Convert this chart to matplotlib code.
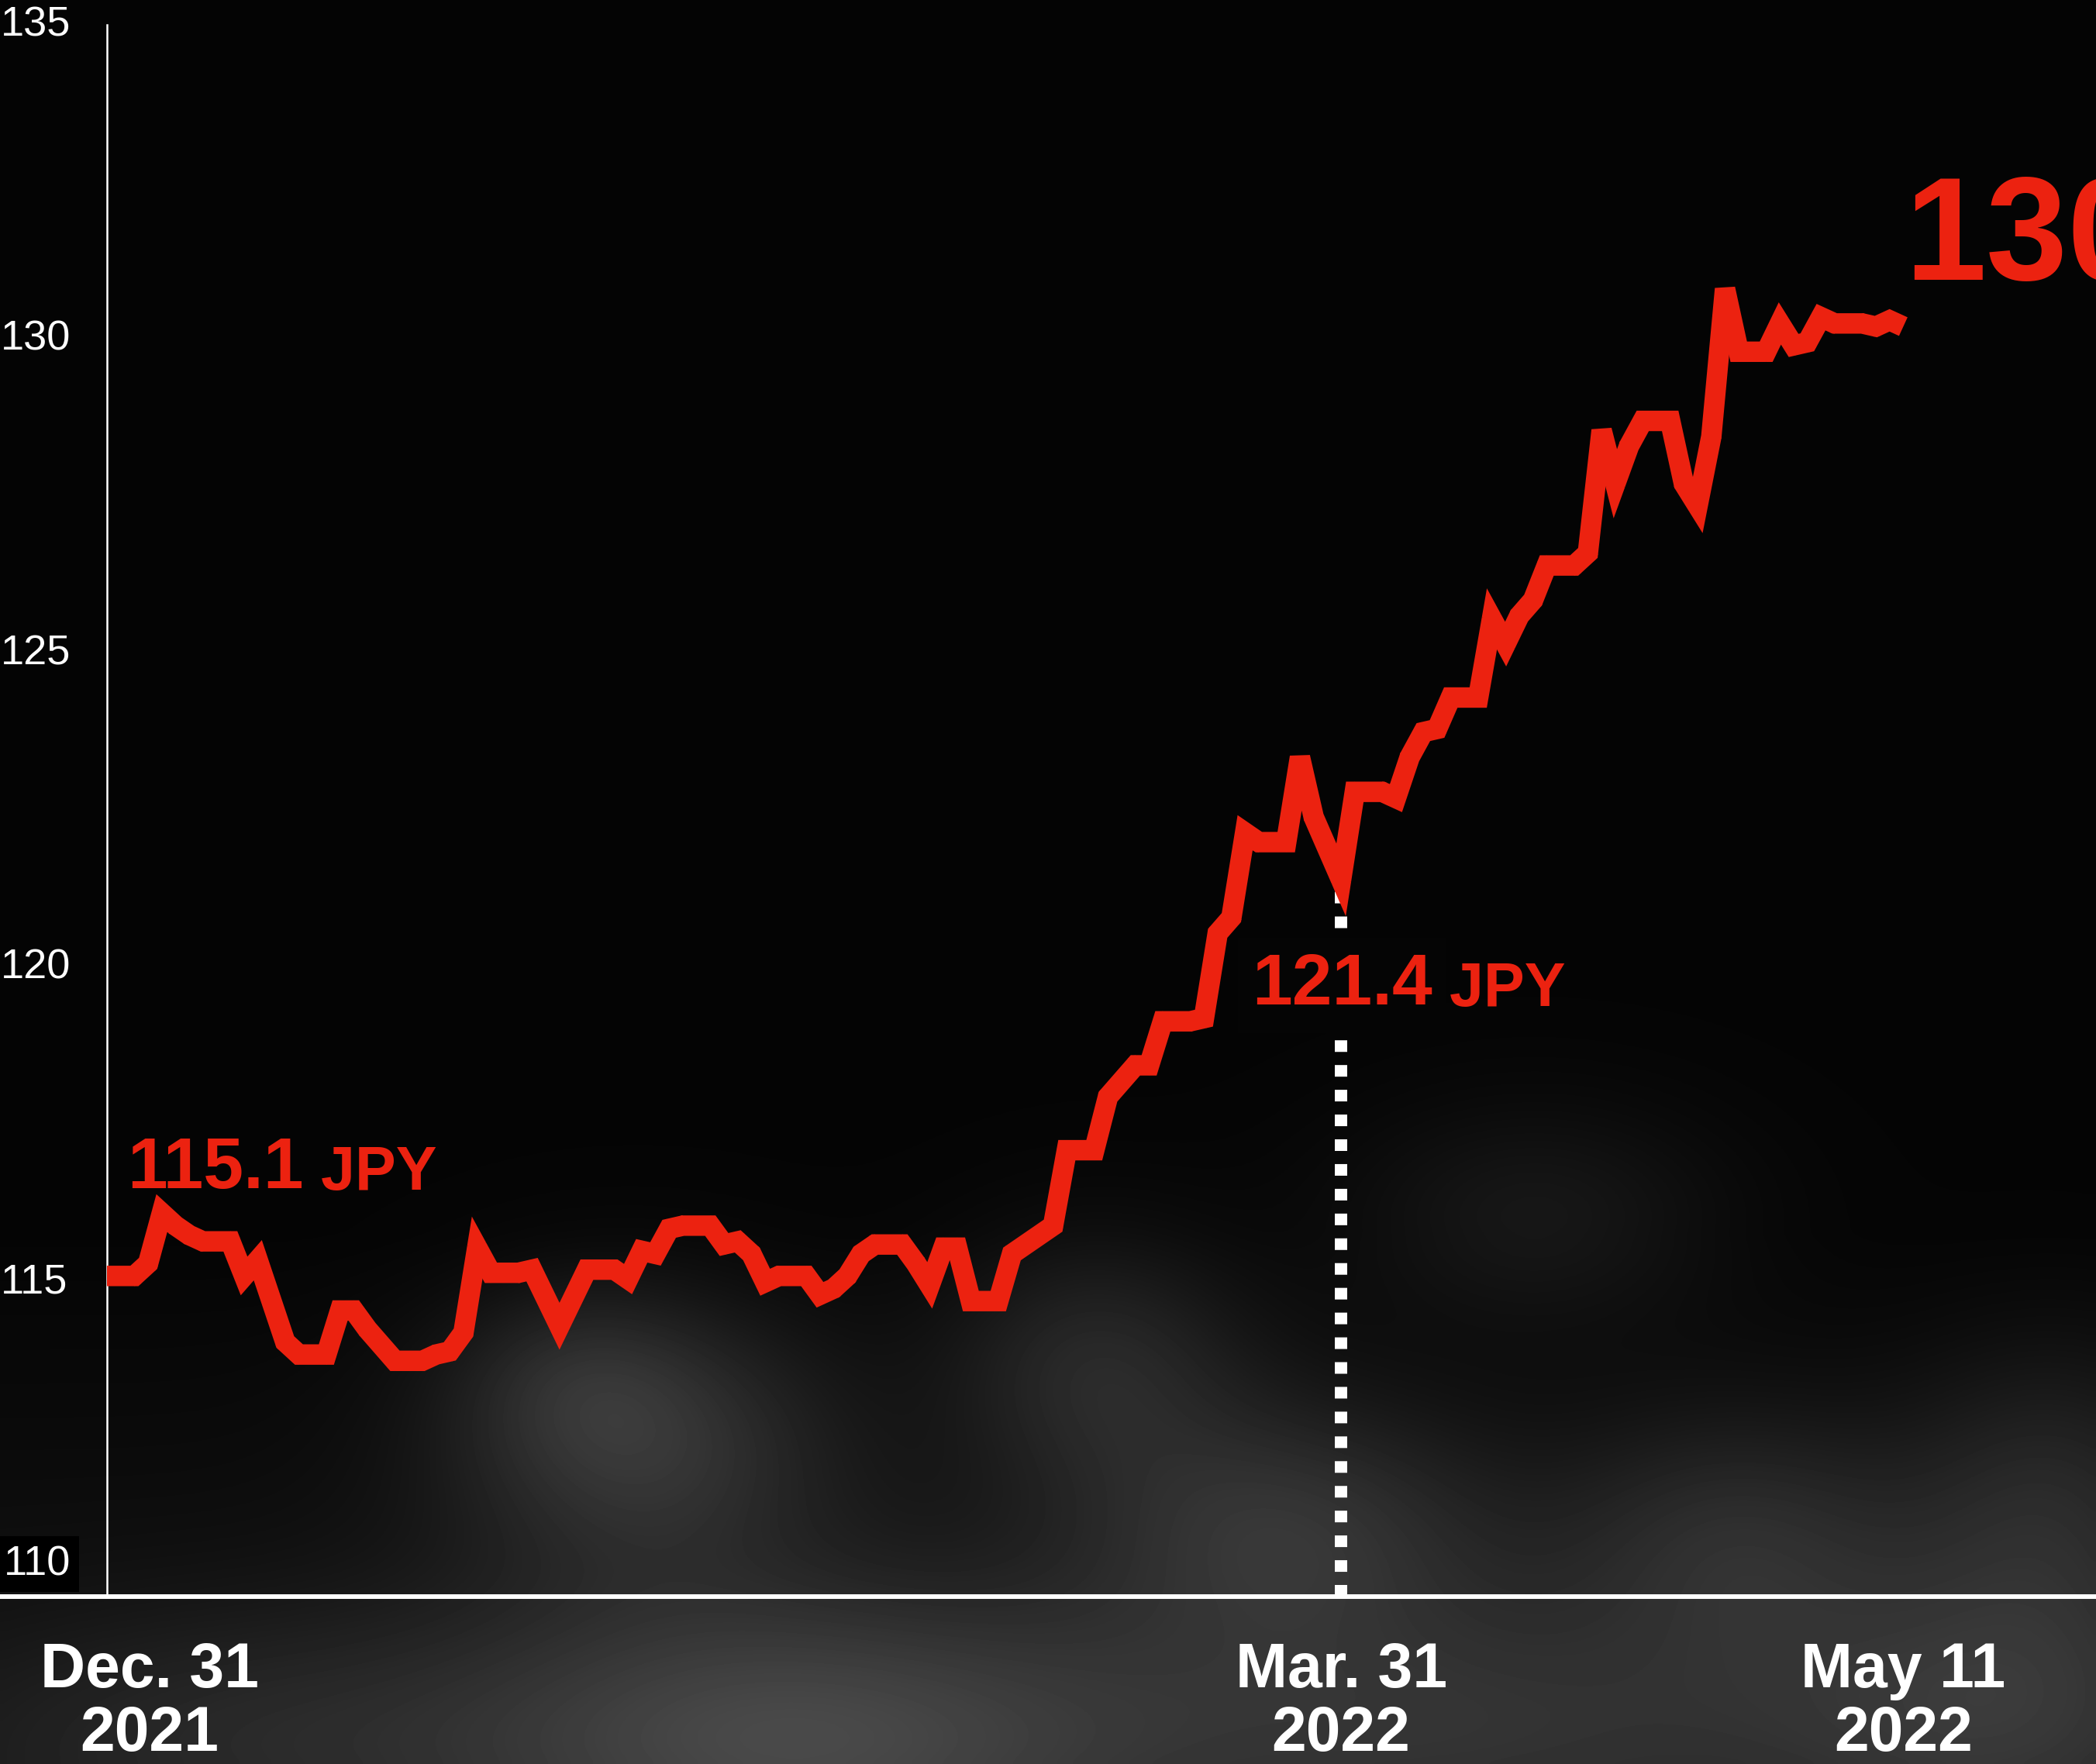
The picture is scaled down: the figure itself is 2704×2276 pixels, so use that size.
#!/usr/bin/env python3

import matplotlib

matplotlib.use("Agg")

import matplotlib.dates as mdates
import matplotlib.pyplot as plt
import numpy as np
import pandas as pd

plt.rcParams["font.family"] = "Liberation Sans"
plt.rcParams["lines.scale_dashes"] = False

RED = "#ec2210"
BG = (0.018, 0.018, 0.018)
FIG_W, FIG_H, DPI = 2704, 2276, 100

# Daily USD/JPY close; Saturday and Sunday repeat Friday's close.
dates = pd.date_range("2021-12-31", "2022-05-11", freq="D")
usd_jpy = [
    115.1, 115.1, 115.1, 115.3, 116.1, 115.9, 115.75, 115.65, 115.65, 115.65,
    115.1, 115.35, 114.7, 114.05, 113.85, 113.85, 113.85, 114.55, 114.55, 114.25,
    114.0, 113.75, 113.75, 113.75, 113.85, 113.9, 114.2, 115.55, 115.15, 115.15,
    115.15, 115.2, 114.75, 114.3, 114.75, 115.2, 115.2, 115.2, 115.05, 115.5,
    115.45, 115.85, 115.9, 115.9, 115.9, 115.6, 115.65, 115.45, 115.0, 115.1,
    115.1, 115.1, 114.8, 114.9, 115.1, 115.45, 115.6, 115.6, 115.6, 115.3,
    114.95, 115.55, 115.55, 114.7, 114.7, 114.7, 115.45, 115.6, 115.75, 115.9,
    117.1, 117.1, 117.1, 117.95, 118.2, 118.45, 118.45, 119.15, 119.15, 119.15,
    119.2, 120.55, 120.8, 122.15, 122.0, 122.0, 122.0, 123.35, 122.4, 121.9,
    121.4, 122.8, 122.8, 122.8, 122.7, 123.35, 123.75, 123.8, 124.3, 124.3,
    124.3, 125.55, 125.15, 125.6, 125.85, 126.4, 126.4, 126.4, 126.6, 128.55,
    127.7, 128.3, 128.7, 128.7, 128.7, 127.7, 127.35, 128.45, 130.8, 129.8,
    129.8, 129.8, 130.25, 129.9, 129.95, 130.35, 130.25, 130.25, 130.25, 130.2,
    130.3, 130.2,
]

y_ticks = [115, 120, 125, 130, 135]
y_floor = 110
x_tick_dates = ["2021-12-31", "2022-03-31", "2022-05-11"]
x_tick_labels = [("Dec. 31", "2021"), ("Mar. 31", "2022"), ("May 11", "2022")]
marked_date = "2022-03-31"

# soft grey puffs behind the chart: (x, y from top, width, height, strength)
SMOKE_PUFFS = [
    (0.306, 0.818, 0.065, 0.055, 0.16),
    (0.274, 0.780, 0.040, 0.035, 0.06),
    (0.523, 0.773, 0.050, 0.050, 0.12),
    (0.612, 0.864, 0.070, 0.050, 0.14),
    (0.733, 0.690, 0.065, 0.045, 0.07),
    (0.830, 0.870, 0.060, 0.050, 0.11),
    (0.980, 0.850, 0.050, 0.060, 0.10),
    (0.370, 0.985, 0.120, 0.060, 0.20),
    (0.700, 0.977, 0.150, 0.060, 0.12),
    (0.960, 0.970, 0.080, 0.060, 0.12),
    (0.100, 0.985, 0.100, 0.050, 0.07),
]


def smoke_background(fig):
    h, w = 264, 314
    v, u = np.mgrid[0:1:h * 1j, 0:1:w * 1j]
    field = BG[0] + 0.06 * np.clip((v - 0.70) / 0.30, 0, 1)
    for cx, cy, sx, sy, amp in SMOKE_PUFFS:
        field += amp * np.exp(-0.5 * (((u - cx) / sx) ** 2 + ((v - cy) / sy) ** 2))
    bg = fig.add_axes([0, 0, 1, 1])
    bg.imshow(field, cmap="gray", vmin=0, vmax=1, extent=(0, 1, 0, 1),
              aspect="auto", interpolation="bicubic")
    bg.set_axis_off()


def miter_tips(ax, x, y, lw_pt, color, limit=4.0):
    """Pointed corners where the miter stays under the limit (bevel elsewhere)."""
    half = lw_pt * DPI / 72 / 2
    pts = ax.transData.transform(np.column_stack([x, y]))
    inv = ax.transData.inverted()
    for i in range(1, len(pts) - 1):
        p0, p1, p2 = pts[i - 1], pts[i], pts[i + 1]
        d1 = (p1 - p0) / np.linalg.norm(p1 - p0)
        d2 = (p2 - p1) / np.linalg.norm(p2 - p1)
        cross = d1[0] * d2[1] - d1[1] * d2[0]
        if abs(cross) < 1e-6:
            continue
        phi = np.arccos(np.clip(np.dot(-d1, d2), -1, 1))
        if 1 / np.sin(phi / 2) > limit:
            continue
        side = -1 if cross > 0 else 1
        n1 = np.array([-d1[1], d1[0]]) * side * half
        n2 = np.array([-d2[1], d2[0]]) * side * half
        a, b = p1 + n1, p1 + n2
        t, _ = np.linalg.solve(np.column_stack([d1, d2]), b - a)
        m = a + t * d1
        poly = inv.transform(np.array([a, m, b, p1]))
        ax.fill(poly[:, 0], poly[:, 1], color=color, lw=0, zorder=3)


def main():
    fig = plt.figure(figsize=(FIG_W / DPI, FIG_H / DPI), dpi=DPI, facecolor="black")
    smoke_background(fig)

    # plot area spans the full width; the baseline sits 216 px above the bottom
    axis_px = 216
    ax = fig.add_axes([0, axis_px / FIG_H, 1, 1 - axis_px / FIG_H])
    ax.patch.set_alpha(0)

    x = mdates.date2num(dates.to_pydatetime())
    x0 = x[0]
    px_per_day = 17.69
    px_per_unit = 81.12
    ax.set_xlim(x0 - 138 / px_per_day, x0 + (FIG_W - 138) / px_per_day)
    ax.set_ylim(y_floor, y_floor + (FIG_H - axis_px) / px_per_unit)

    for side in ("left", "right", "top"):
        ax.spines[side].set_visible(False)
    ax.spines["bottom"].set_color("white")
    ax.spines["bottom"].set_linewidth(4.3)
    ax.set_xticks([])
    ax.set_yticks([])

    # value axis line
    ax.plot([x0, x0], [y_floor, y_ticks[-1]], color="white", lw=1.8, zorder=2)

    # dotted drop line under the marked day
    xm = mdates.date2num(pd.Timestamp(marked_date))
    vm = usd_jpy[dates.get_loc(pd.Timestamp(marked_date))]
    ax.plot([xm, xm], [y_floor, vm], color="white", lw=11.5,
            dashes=(10.8, 12.2), dash_capstyle="butt", zorder=2)

    line_w = 19
    ax.plot(x, usd_jpy, color=RED, lw=line_w, solid_joinstyle="bevel",
            solid_capstyle="butt", zorder=3)
    miter_tips(ax, x, usd_jpy, line_w, RED)

    # value labels
    for val in y_ticks:
        ax.annotate(f"{val}", xy=(0, val), xycoords=("axes fraction", "data"),
                    xytext=(0.7, 0), textcoords="offset points",
                    ha="left", va="center", fontsize=39, color="white")
    ax.annotate(f"{y_floor}", xy=(0, y_floor), xycoords=("axes fraction", "data"),
                xytext=(3.5, 20), textcoords="offset points",
                ha="left", va="baseline", fontsize=39, color="white",
                bbox=dict(boxstyle="square,pad=0.2", fc="black", ec="none"))

    # date labels below the baseline
    label_shift = [39.6, 0, 0]
    for day, (top, bottom), dx in zip(x_tick_dates, x_tick_labels, label_shift):
        xd = mdates.date2num(pd.Timestamp(day))
        for text, dy in ((top, -84), (bottom, -143)):
            ax.annotate(text, xy=(xd, 0), xycoords=("data", "axes fraction"),
                        xytext=(dx, dy), textcoords="offset points",
                        ha="center", va="baseline", fontsize=58,
                        fontweight="bold", color="white")

    # callouts
    def callout(xd, yv, value, size, unit_size, box=False):
        t = ax.text(xd, yv, f"{value:.1f}", ha="left", va="baseline",
                    fontsize=size, fontweight="bold", color=RED, zorder=5,
                    bbox=dict(boxstyle="square,pad=0.2", fc=BG, ec="none")
                    if box else None)
        ax.annotate(" JPY", xy=(1, 0), xycoords=t, ha="left", va="bottom",
                    fontsize=unit_size, fontweight="bold", color=RED, zorder=5)

    callout(x0 + 1.5, 116.5, usd_jpy[0], 67, 57)
    callout(x0 + 83.5, 119.42, vm, 67, 57, box=True)
    # the latest value runs off the right edge on purpose
    callout(x[-1] + 0.1, 130.94, usd_jpy[-1], 136, 116)

    fig.savefig("out.png", dpi=DPI, facecolor="black")
    plt.close(fig)


if __name__ == "__main__":
    main()
